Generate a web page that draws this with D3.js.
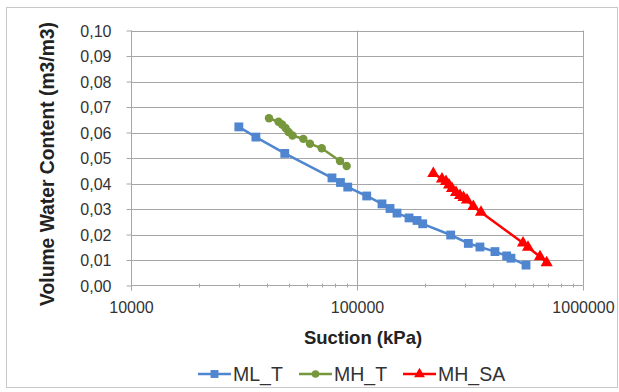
<!DOCTYPE html>
<html><head><meta charset="utf-8">
<script src="https://cdn.jsdelivr.net/npm/d3@7"></script>
<style>body{margin:0;background:#fff}svg{display:block}</style>
</head><body>
<script>
const mlT_x = [30000,35700,47900,77500,84500,91000,110400,129000,140000,150300,169900,184400,195300,259800,310900,350000,407800,459500,480000,559600];
const mlT_y = [0.0622,0.0582,0.0518,0.0422,0.0404,0.0386,0.0351,0.0320,0.0302,0.0284,0.0265,0.0255,0.0242,0.0198,0.0165,0.0151,0.0133,0.0116,0.0107,0.0080];
const mhT_x = [40800,44950,46600,48280,49770,51820,57870,61940,69800,84100,90000];
const mhT_y = [0.0656,0.0642,0.0631,0.0618,0.0602,0.0588,0.0575,0.0556,0.0538,0.0488,0.0469];
const mhSA_x = [217600,237700,247600,255400,263300,274300,285600,296000,306700,327100,353700,542700,571000,645200,690600];
const mhSA_y = [0.0439,0.0418,0.0408,0.0394,0.0380,0.0365,0.0353,0.0345,0.0335,0.0310,0.0287,0.0167,0.0150,0.0113,0.0089];
const seriesNames = ["ML_T","MH_T","MH_SA"];
const yTicks = [0,0.01,0.02,0.03,0.04,0.05,0.06,0.07,0.08,0.09,0.10];
const xTicks = [10000,100000,1000000];

const W=619,H=392;
const svg=d3.select("body").append("svg").attr("width",W).attr("height",H);
const font="'Liberation Sans', Arial, sans-serif";
svg.append("rect").attr("x",6.5).attr("y",7.5).attr("width",611).attr("height",380)
  .attr("fill","#fff").attr("stroke","#c8c8c8");

const x=d3.scaleLog().domain([10000,1000000]).range([131,583]);
const y=d3.scaleLinear().domain([0,0.10]).range([285.5,30.5]);

// grid
const g=svg.append("g");
g.selectAll(".hg").data(yTicks.slice(1)).join("line")
  .attr("x1",131).attr("x2",583).attr("y1",d=>Math.round(y(d))+0.5).attr("y2",d=>Math.round(y(d))+0.5)
  .attr("stroke","#a6a6a6").attr("stroke-width",1);
g.selectAll(".vg").data(xTicks.slice(1)).join("line")
  .attr("x1",d=>Math.round(x(d))+0.5).attr("x2",d=>Math.round(x(d))+0.5).attr("y1",30.5).attr("y2",285.5)
  .attr("stroke","#a6a6a6");

// y axis
const ya=d3.axisLeft(y).tickValues(yTicks).tickSize(5).tickPadding(15)
  .tickFormat(d=>d3.format(".2f")(d).replace(".",","));
const yg=svg.append("g").attr("transform","translate(131.5,0)").call(ya);
yg.select(".domain").attr("stroke","#a6a6a6").attr("d","M0,30.5V290.5");
yg.selectAll(".tick line").attr("stroke","#a6a6a6");
yg.selectAll("text").attr("font-family",font).attr("font-size",16).attr("fill","#333").attr("dy","0.35em");

// x axis
const xa=d3.axisBottom(x).tickValues(xTicks).tickSize(5).tickPadding(11).tickFormat(d3.format("d"));
const xg=svg.append("g").attr("transform","translate(0,285.5)").call(xa);
xg.select(".domain").attr("stroke","#a6a6a6").attr("d","M131,0H583");
xg.selectAll(".tick line").attr("stroke","#a6a6a6");
xg.selectAll("text").attr("font-family",font).attr("font-size",16).attr("fill","#333");
// minor ticks
const minor=[];
[10000,100000].forEach(b=>{for(let k=2;k<10;k++)minor.push(b*k);});
xg.selectAll(".mn").data(minor).join("line")
  .attr("x1",d=>Math.round(x(d))+0.5).attr("x2",d=>Math.round(x(d))+0.5).attr("y1",-2).attr("y2",2)
  .attr("stroke","#a6a6a6");

// titles
svg.append("text").attr("transform","translate(54,164) rotate(-90)").attr("text-anchor","middle")
  .attr("font-family",font).attr("font-weight","bold").attr("font-size",19.3).attr("fill","#222")
  .text("Volume Water Content (m3/m3)");
svg.append("text").attr("x",363).attr("y",344).attr("text-anchor","middle")
  .attr("font-family",font).attr("font-weight","bold").attr("font-size",18.5).attr("fill","#222")
  .text("Suction (kPa)");

const colors=["#4f86cf","#77973d","#ff0000"];
const data=[d3.zip(mlT_x,mlT_y),d3.zip(mhT_x,mhT_y),d3.zip(mhSA_x,mhSA_y)];
const line=d3.line().x(d=>x(d[0])).y(d=>y(d[1]));
const sym=[d3.symbolSquare,d3.symbolCircle,d3.symbolTriangle];
const sizes=[78,56,64];
data.forEach((s,i)=>{
  svg.append("path").datum(s).attr("d",line).attr("fill","none").attr("stroke",colors[i]).attr("stroke-width",2.5);
  svg.append("g").selectAll("path").data(s).join("path")
    .attr("transform",d=>`translate(${x(d[0])},${y(d[1])})`)
    .attr("d",d3.symbol(sym[i],sizes[i])).attr("fill",colors[i]);
});

// legend
const legX=[198,299,403];
seriesNames.forEach((n,i)=>{
  const lg=svg.append("g").attr("transform",`translate(${legX[i]},374)`);
  lg.append("line").attr("x1",0).attr("x2",33).attr("stroke",colors[i]).attr("stroke-width",2.5);
  lg.append("path").attr("transform","translate(16.5,0)").attr("d",d3.symbol(sym[i],sizes[i]*0.8)).attr("fill",colors[i]);
  lg.append("text").attr("x",35).attr("y",7).attr("font-family",font).attr("font-size",19.5).attr("fill","#333").text(n);
});
</script>
</body></html>
